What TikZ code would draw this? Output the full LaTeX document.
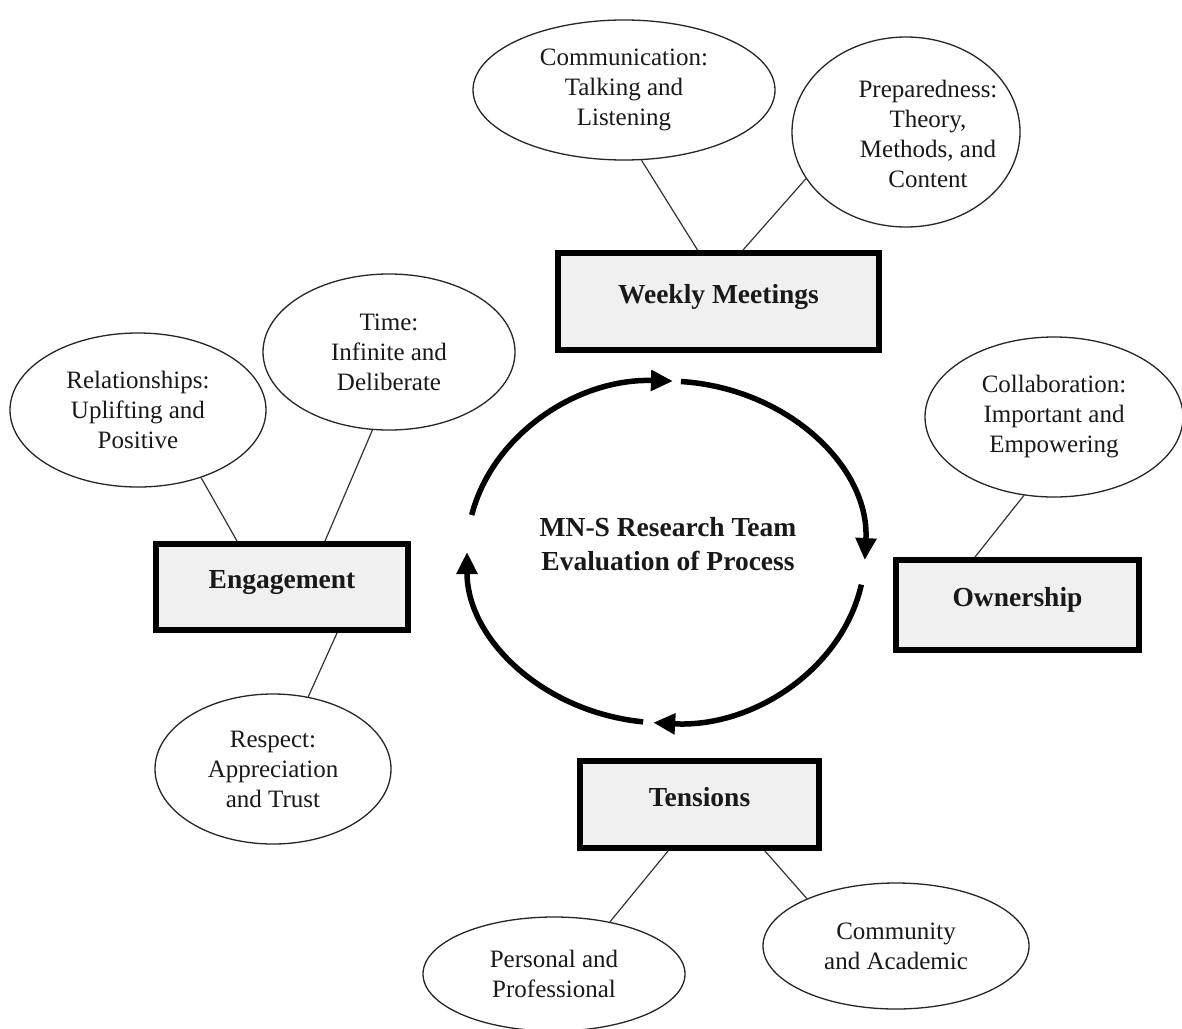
\documentclass[tikz,border=0pt]{standalone}
\usepackage{fontspec}
\setmainfont{Liberation Serif}
\usetikzlibrary{arrows.meta,shapes.geometric}
\definecolor{boxfill}{RGB}{240,240,240}
\begin{document}
\begin{tikzpicture}[x=1pt,y=1pt,
  ell/.style={draw=black!85, line width=1.3pt, ellipse, inner sep=0pt, align=center,
    font=\fontsize{25}{30}\selectfont, text=black!90},
  txt/.style={inner sep=0pt, align=center, font=\fontsize{25}{30}\selectfont, text=black!90},
  catbox/.style={draw=black, line width=6pt, fill=boxfill, rectangle, inner sep=0pt,
    font=\bfseries\fontsize{27.5}{33}\selectfont, text=black!90, text height=19pt, text depth=16pt},
  link/.style={draw=black!80, line width=1.2pt},
  cycarrow/.style={line width=5.5pt, -{Triangle[length=22pt,width=20pt]}}
]
\useasboundingbox (0,0) rectangle (1182,-1028);
\fill[white] (0,0) rectangle (1182,-1028);

% ellipses
\node[ell, minimum width=302pt, minimum height=140pt] (comm) at (624,-90)
  {Communication:\\Talking and\\Listening};
\node[ell, minimum width=228pt, minimum height=190pt] (prep) at (906,-132) {};
\node[txt] (prepT) at (928,-134) {Preparedness:\\Theory,\\Methods, and\\Content};
\node[ell, minimum width=252pt, minimum height=156pt] (time) at (389,-352)
  {Time:\\Infinite and\\Deliberate};
\node[ell, minimum width=256pt, minimum height=154pt] (rel) at (138,-410)
  {Relationships:\\Uplifting and\\Positive};
\node[ell, minimum width=258pt, minimum height=160pt] (collab) at (1054,-417)
  {Collaboration:\\Important and\\Empowering};
\node[ell, minimum width=236pt, minimum height=150pt] (respect) at (273,-769)
  {Respect:\\Appreciation\\and Trust};
\node[ell, minimum width=262pt, minimum height=114pt] (personal) at (554,-974)
  {Personal and\\Professional};
\node[ell, minimum width=266pt, minimum height=126pt] (community) at (896,-946)
  {Community\\and Academic};

% category boxes
\node[catbox, minimum width=321pt, minimum height=97pt] (weekly) at (718.5,-301.5) {Weekly Meetings};
\node[catbox, minimum width=252pt, minimum height=86pt] (engage) at (282,-587) {Engagement};
\node[catbox, minimum width=243pt, minimum height=90pt] (owner) at (1017.5,-605) {Ownership};
\node[catbox, minimum width=239pt, minimum height=87pt] (tension) at (699.5,-804.5) {Tensions};

% connectors
\draw[link] (comm.-76) -- ([xshift=-21pt]weekly.north);
\draw[link] (prep.-155) -- ([xshift=24.5pt]weekly.north);
\draw[link] (rel.-47) -- ([xshift=-45pt]engage.north);
\draw[link] (time.-102) -- ([xshift=43pt]engage.north);
\draw[link] ([xshift=55pt]engage.south) -- (respect.64);
\draw[link] (collab.-111) -- ([xshift=-42.5pt]owner.north);
\draw[link] ([xshift=-31.5pt]tension.south) -- (personal.43);
\draw[link] ([xshift=65.5pt]tension.south) -- (community.152);

% central label
\node[inner sep=0pt, align=center, font=\bfseries\fontsize{27.5}{34}\selectfont, text=black!90]
  (core) at (668,-544) {MN-S Research Team\\Evaluation of Process};

% cycle arrows
\coordinate (cyc) at (666,-552);
\draw[cycarrow] ([shift={(167.5:199 and 171)}]cyc) arc[start angle=167.5, end angle=88, x radius=199, y radius=171];
\draw[cycarrow] ([shift={(85.7:199 and 171)}]cyc) arc[start angle=85.7, end angle=-2.7, x radius=199, y radius=171];
\draw[cycarrow] ([shift={(-11:199 and 171)}]cyc) arc[start angle=-11, end angle=-93.7, x radius=199, y radius=171];
\draw[cycarrow] ([shift={(-96.6:199 and 171)}]cyc) arc[start angle=-96.6, end angle=-180, x radius=199, y radius=171];
\end{tikzpicture}
\end{document}
